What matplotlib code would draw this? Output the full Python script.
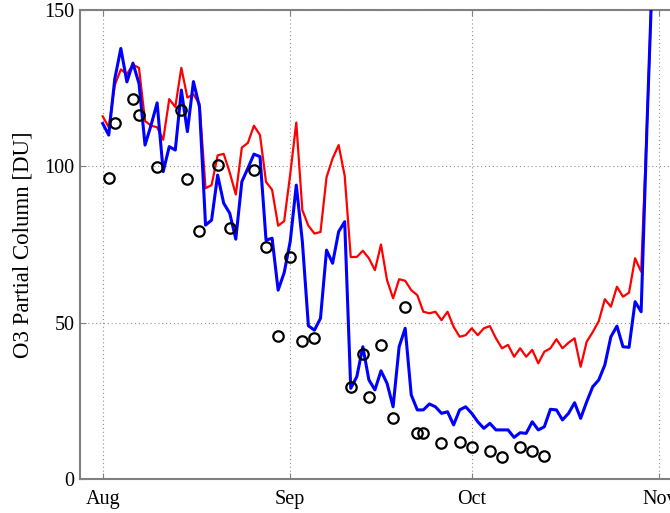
import matplotlib
matplotlib.use("Agg")
import matplotlib.pyplot as plt
import matplotlib.dates as mdates
import datetime as dt

start_date = dt.date(2007, 8, 1)

red_values = [116, 112.5, 126, 131, 129.5, 132.5, 131.5, 114.5, 113, 112.5,
              108.5, 121.5, 119, 131.5, 122, 123, 120, 93, 94, 103.5,
              104, 98, 91, 106, 107.5, 113, 110, 95, 92.5, 81,
              82.5, 97.5, 114, 86, 81, 78.5, 79, 96.5, 102.5, 106.8,
              97, 71, 71, 73, 70.6, 66.8, 75, 63.6, 57.8, 63.9,
              63.4, 60.4, 58.8, 53.5, 53, 53.5, 50.8, 53.5, 48.7, 45.5,
              46, 48.2, 46, 48.2, 48.9, 45, 41.8, 42.9, 39.1, 41.8,
              39.1, 41.3, 37, 40.7, 41.8, 44.7, 41.8, 43.6, 45, 35.9,
              43.9, 47, 50.5, 57.5, 55.1, 61.5, 58.3, 59.6, 70.6, 66.3,
              115, 170]

blue_values = [113.7, 110, 128, 137.7, 127, 133, 126.5, 106.8, 113.2, 120.3,
               98.3, 106.3, 105.2, 124.4, 111.1, 127.1, 119, 81.2, 82.8, 97.2,
               88.2, 85, 76.7, 95.1, 99.4, 103.9, 103.1, 76.4, 77, 60.4,
               66, 76, 94, 76, 49, 47.6, 51.4, 73.2, 69, 79.1,
               82.3, 29, 32.7, 42.3, 31.7, 28.5, 34.6, 30.6, 23.1, 42.3,
               48.2, 26.9, 22.1, 22.1, 24, 23.1, 21, 21.5, 17.3, 22.1,
               23.1, 21, 18.3, 16.2, 17.8, 15.7, 15.7, 15.7, 13.3, 14.8,
               14.6, 18.3, 15.7, 16.7, 22.3, 22.1, 18.9, 21, 24.4, 19.4,
               24.7, 29.5, 31.7, 36.5, 45.5, 48.9, 42.3, 42.1, 56.7, 53.5,
               115, 170]

obs_day_offsets = [1, 2, 5, 6, 9, 13, 14, 16, 19, 21, 25, 27, 29, 31, 33, 35,
                   41, 43, 44, 46, 48, 50, 52, 53, 56, 59, 61, 64, 66, 69, 71, 73]
obs_values = [96.4, 113.9, 121.5, 116.4, 99.9, 118.0, 95.8, 79.4, 100.4, 80.4,
              98.8, 74.3, 45.8, 70.9, 44.2, 45.1, 29.3, 40.0, 26.3, 42.9,
              19.6, 54.9, 14.8, 14.8, 11.4, 11.9, 10.1, 9.0, 7.1, 10.1, 9.1, 7.5]

month_ticks = [dt.date(2007, 8, 1), dt.date(2007, 9, 1), dt.date(2007, 10, 1), dt.date(2007, 11, 1)]
month_labels = ["Aug", "Sep", "Oct", "Nov"]
y_ticks = [0, 50, 100, 150]
y_label = "O3 Partial Column [DU]"

line_dates = [start_date + dt.timedelta(days=i) for i in range(len(red_values))]
obs_dates = [start_date + dt.timedelta(days=d) for d in obs_day_offsets]

plt.rcParams["font.family"] = ["Liberation Serif", "DejaVu Serif"]

W, H = 670, 513
fig = plt.figure(figsize=(W / 100, H / 100), dpi=100)
ax_left, ax_bottom_px, ax_top_px = 80, 479, 10
ax_width_px = 622
ax = fig.add_axes([ax_left / W, (H - ax_bottom_px) / H, ax_width_px / W, (ax_bottom_px - ax_top_px) / H])

ax.plot(line_dates, red_values, color="#ff0000", lw=1.6, zorder=3)
ax.plot(line_dates, blue_values, color="#0000ff", lw=2.2, zorder=4)
ax.plot(obs_dates, obs_values, linestyle="none", marker="o", markersize=7.5,
        markerfacecolor="none", markeredgecolor="black", markeredgewidth=1.6, zorder=5)

x0 = mdates.date2num(dt.datetime(2007, 8, 1)) - 3.75
ax.set_xlim(x0, x0 + ax_width_px / 6.05)
ax.set_ylim(0, 150)
ax.set_xticks(month_ticks)
ax.set_xticklabels(month_labels)
ax.set_yticks(y_ticks)
ax.set_ylabel(y_label, fontsize=16.5, labelpad=8)

ax.grid(True, linestyle=(0, (1, 2.5)), color="#909090", linewidth=0.8)
ax.set_axisbelow(True)
for s in ax.spines.values():
    s.set_color("#808080")
    s.set_linewidth(1.5)
ax.tick_params(axis="both", direction="in", length=4, color="#808080",
               labelsize=14.5, top=True, right=True, labelcolor="black")
ax.tick_params(axis="x", pad=8)
ax.tick_params(axis="y", pad=4)

fig.savefig("out.png", dpi=100)
